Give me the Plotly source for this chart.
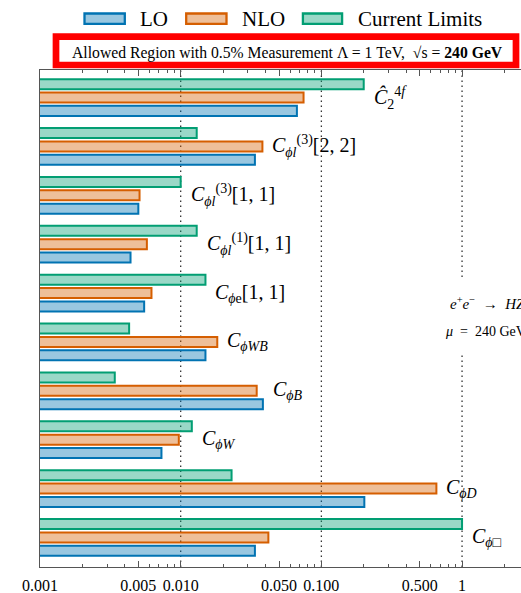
import math
import plotly.graph_objects as go

# ---- data -------------------------------------------------------------
categories = ["C2_4f", "Cphil3_22", "Cphil3_11", "Cphil1_11", "Cphie_11",
              "CphiWB", "CphiB", "CphiW", "CphiD", "CphiBox"]
labels = [
    "<i>Ĉ</i><sub>2</sub><sup>4<i>f</i></sup>",
    "<i>C</i><sub><i>ϕl</i></sub><sup>(3)</sup>[2, 2]",
    "<i>C</i><sub><i>ϕl</i></sub><sup>(3)</sup>[1, 1]",
    "<i>C</i><sub><i>ϕl</i></sub><sup>(1)</sup>[1, 1]",
    "<i>C</i><sub><i>ϕ</i>e</sub>[1, 1]",
    "<i>C</i><sub><i>ϕWB</i></sub>",
    "<i>C</i><sub><i>ϕB</i></sub>",
    "<i>C</i><sub><i>ϕW</i></sub>",
    "<i>C</i><sub><i>ϕD</i></sub>",
    "<i>C</i><sub><i>ϕ</i>□</sub>",
]
lo = [0.067, 0.0337, 0.0050, 0.0044, 0.0055, 0.0150, 0.0384, 0.0073, 0.202, 0.0337]
nlo = [0.0747, 0.0381, 0.0051, 0.00575, 0.0062, 0.0182, 0.0347, 0.0097, 0.657, 0.042]
limits = [0.20, 0.013, 0.010, 0.013, 0.015, 0.0043, 0.0034, 0.012, 0.023, 1.0]
series_names = ["LO", "NLO", "Current Limits"]

tick_vals = [0.001, 0.005, 0.01, 0.05, 0.1, 0.5, 1]
tick_text = ["0.001", "0.005", "0.010", "0.050", "0.100", "0.500", "1"]
minor_vals = [0.002, 0.003, 0.004, 0.006, 0.007, 0.008, 0.009,
              0.02, 0.03, 0.04, 0.06, 0.07, 0.08, 0.09,
              0.2, 0.3, 0.4, 0.6, 0.7, 0.8, 0.9, 2]
ref_lines = [0.01, 0.1, 1]

# ---- styling ----------------------------------------------------------
colors = ["#0173B2", "#D55E00", "#029E73"]
SERIF = "Liberation Serif, DejaVu Serif, serif"
W, H = 521, 593
M_L, M_R, M_T, M_B = 40, 0, 70, 26
PW, PH = W - M_L - M_R, H - M_T - M_B


def fx(x):
    """pixel column -> paper x"""
    return (x - M_L) / PW


def fy(y):
    """pixel row -> paper y"""
    return (H - M_B - y) / PH


def rgba(hex_color, a):
    h = hex_color.lstrip("#")
    r, g, b = (int(h[i:i + 2], 16) for i in (0, 2, 4))
    return f"rgba({r},{g},{b},{a})"


fig = go.Figure()
for name, vals, col in zip(series_names, [lo, nlo, limits], colors):
    fig.add_trace(go.Bar(
        y=categories, x=vals, orientation="h", name=name, showlegend=False,
        marker=dict(color=rgba(col, 0.4), line=dict(color=col, width=2)),
    ))

shapes = []
# dotted reference lines
for v in ref_lines:
    shapes.append(dict(type="line", xref="x", yref="paper", x0=v, x1=v, y0=0, y1=1,
                       layer="below", line=dict(color="#333333", width=1.3, dash="1.5px,3.5px")))
# white backing for the process note
shapes.append(dict(type="rect", xref="paper", yref="paper",
                   x0=fx(438), x1=fx(530), y0=fy(352), y1=fy(280),
                   layer="below", fillcolor="white", line=dict(width=0)))
# title frame
shapes.append(dict(type="rect", xref="paper", yref="paper",
                   x0=fx(56), x1=fx(516), y0=fy(65), y1=fy(36.7),
                   line=dict(color="#ff0000", width=6.7), fillcolor="rgba(0,0,0,0)"))

annotations = []
# coefficient labels to the right of each group
for cat, lab, a, b, c in zip(categories, labels, lo, nlo, limits):
    annotations.append(dict(x=math.log10(max(a, b, c)), y=cat, xref="x", yref="y",
                            text=lab, showarrow=False, xanchor="left", yanchor="middle",
                            xshift=8, font=dict(family=SERIF, size=20, color="black")))

# legend drawn along the top
legend_boxes = [(84.5, 124.8, 137.7), (186.2, 226.5, 240), (302.9, 342.1, 356)]
for (x0, x1, tx), name, col in zip(legend_boxes, series_names, colors):
    shapes.append(dict(type="rect", xref="paper", yref="paper",
                       x0=fx(x0), x1=fx(x1), y0=fy(23.8), y1=fy(13.5),
                       fillcolor=rgba(col, 0.4), line=dict(color=col, width=2.3)))
    annotations.append(dict(x=fx(tx), y=fy(18.7), xref="paper", yref="paper", text=name,
                            showarrow=False, xanchor="left", yanchor="middle",
                            font=dict(family=SERIF, size=21, color="black")))

annotations.append(dict(
    x=fx(287), y=fy(52.5), xref="paper", yref="paper", showarrow=False,
    xanchor="center", yanchor="middle",
    text="Allowed Region with 0.5% Measurement Λ = 1 TeV,  √s = <b>240 GeV</b>",
    font=dict(family=SERIF, size=15.7, color="black")))

annotations.append(dict(
    x=fx(448), y=fy(303), xref="paper", yref="paper", showarrow=False,
    xanchor="left", yanchor="middle",
    text="<i>e</i><sup>+</sup><i>e</i><sup>−</sup>\u00a0\u00a0→\u00a0\u00a0<i>HZ</i>",
    font=dict(family=SERIF, size=15, color="black")))
annotations.append(dict(
    x=fx(443), y=fy(331), xref="paper", yref="paper", showarrow=False,
    xanchor="left", yanchor="middle",
    text="<i>μ</i>\u00a0 = \u00a0240 GeV",
    font=dict(family=SERIF, size=14, color="black")))

fig.update_layout(
    width=W, height=H,
    margin=dict(l=M_L, r=M_R, t=M_T, b=M_B, pad=0),
    paper_bgcolor="white", plot_bgcolor="white",
    barmode="group", bargap=0.18, bargroupgap=0.25,
    showlegend=False,
    font=dict(family=SERIF, color="black"),
    shapes=shapes, annotations=annotations,
    xaxis=dict(
        type="log", range=[-3, 0.419], tickvals=tick_vals, ticktext=tick_text,
        ticks="inside", ticklen=6, tickcolor="#555555", showline=True,
        linecolor="#555555", linewidth=1, mirror="allticks", showgrid=False,
        zeroline=False, ticklabelstandoff=4,
        tickfont=dict(family=SERIF, size=16, color="black"),
        minor=dict(tickvals=minor_vals, ticks="inside", ticklen=3,
                   tickcolor="#555555", showgrid=False),
    ),
    yaxis=dict(
        type="category", categoryorder="array", categoryarray=categories[::-1],
        range=[-0.604, 9.563], showticklabels=False, ticks="", showline=True,
        linecolor="#555555", linewidth=1, showgrid=False, zeroline=False,
    ),
)

fig.write_html("out.html")
